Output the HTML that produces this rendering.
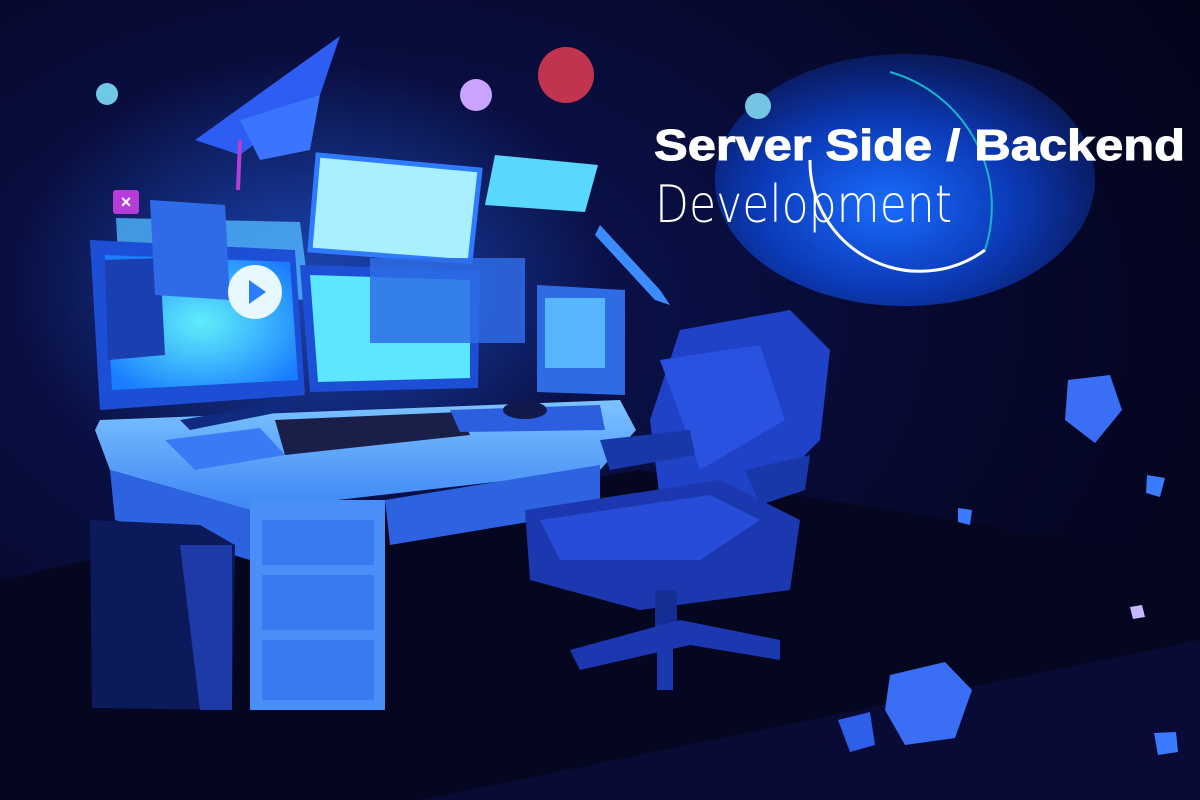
<!DOCTYPE html>
<html><head><meta charset="utf-8"><style>html,body{margin:0;padding:0;background:#07082a;}svg{display:block}</style></head>
<body>
<svg width="1200" height="800" viewBox="0 0 1200 800" xmlns="http://www.w3.org/2000/svg">
<defs>
<radialGradient id="bg" cx="0.3" cy="0.4" r="0.8"><stop offset="0" stop-color="#0c175a"/><stop offset="0.6" stop-color="#070930"/><stop offset="1" stop-color="#03041a"/></radialGradient>
<radialGradient id="glow" cx="0.45" cy="0.6" r="0.6"><stop offset="0" stop-color="#1a6cff"/><stop offset="0.55" stop-color="#0b3bb8"/><stop offset="0.9" stop-color="#0a1f6e"/><stop offset="1" stop-color="#0a1a5a"/></radialGradient>
<radialGradient id="scr" cx="0.5" cy="0.5" r="0.6"><stop offset="0" stop-color="#6ff" stop-opacity="0.9"/><stop offset="1" stop-color="#1a7dff"/></radialGradient>
<radialGradient id="halo" cx="0.5" cy="0.5" r="0.5"><stop offset="0" stop-color="#2a6dff" stop-opacity="0.55"/><stop offset="1" stop-color="#2a6dff" stop-opacity="0"/></radialGradient>
<linearGradient id="desk" x1="0" y1="0" x2="0" y2="1"><stop offset="0" stop-color="#7cc4ff"/><stop offset="1" stop-color="#3f86f5"/></linearGradient>
</defs>
<rect width="1200" height="800" fill="url(#bg)"/>
<polygon points="0,580 90,560 640,470 1200,560 1200,800 0,800" fill="#05061f"/>
<polygon points="420,800 1200,640 1200,800" fill="#090b36"/>
<ellipse cx="310" cy="280" rx="300" ry="220" fill="url(#halo)"/>
<ellipse cx="905" cy="180" rx="190" ry="126" fill="url(#glow)"/>
<path d="M810 160 A110 110 0 0 0 985 250" stroke="#ffffff" stroke-width="3" fill="none"/>
<path d="M890 72 A140 140 0 0 1 985 250" stroke="#19b5c8" stroke-width="2" fill="none"/>
<circle cx="107" cy="94" r="11" fill="#6fc8e8"/>
<circle cx="476" cy="95" r="16" fill="#c9a3ff"/>
<circle cx="566" cy="75" r="28" fill="#c0344f"/>
<circle cx="758" cy="106" r="13" fill="#74c4e4"/>
<polygon points="195,140 340,36 320,95 240,155" fill="#2d5df2"/>
<polygon points="240,120 320,95 310,150 260,160" fill="#3b74ff"/>
<line x1="240" y1="140" x2="238" y2="190" stroke="#b23fd8" stroke-width="4"/>
<polygon points="318,155 480,170 470,262 310,250" fill="#a8f0ff" stroke="#2f7bff" stroke-width="5"/>
<polygon points="495,155 598,165 585,212 485,205" fill="#5ad7ff"/>
<polygon points="116,218 300,222 310,300 120,295" fill="#4fb6ff" opacity="0.8"/>
<rect x="113" y="190" width="26" height="24" rx="3" fill="#b63cd8"/>
<text x="126" y="208" font-family="Liberation Sans,sans-serif" font-size="18" font-weight="bold" fill="#fff" text-anchor="middle">×</text>
<polygon points="600,225 660,290 670,305 655,300 595,235" fill="#3d8cff"/>
<polygon points="90,240 295,250 305,395 100,410" fill="#1d4fd6"/>
<polygon points="105,255 290,262 298,380 112,390" fill="url(#scr)"/>
<polygon points="105,260 160,258 165,355 108,360" fill="#1a3fb0"/>
<polygon points="150,200 225,205 230,300 155,295" fill="#2e6be8"/>
<circle cx="255" cy="292" r="27" fill="#e8f8ff"/>
<polygon points="249,280 249,304 266,292" fill="#2a7bff"/>
<polygon points="300,265 480,270 478,388 310,392" fill="#1d4fd6"/>
<polygon points="310,275 470,280 470,378 318,382" fill="#5de6ff"/>
<rect x="370" y="258" width="155" height="85" fill="#2e6ce6" opacity="0.85"/>
<polygon points="537,285 625,290 625,395 537,392" fill="#2e6ce6"/>
<rect x="545" y="298" width="60" height="70" fill="#58b5ff"/>
<polygon points="100,420 620,400 636,430 600,470 250,510 110,470 95,430" fill="url(#desk)"/>
<polygon points="110,470 250,510 250,560 115,520" fill="#2d63e0"/>
<polygon points="385,500 600,465 600,510 390,545" fill="#2d63e0"/>
<rect x="250" y="500" width="135" height="210" fill="#4a8ef8"/>
<rect x="262" y="520" width="112" height="45" fill="#3a7af0"/>
<rect x="262" y="575" width="112" height="55" fill="#3a7af0"/>
<rect x="262" y="640" width="112" height="60" fill="#3a7af0"/>
<polygon points="90,520 200,525 235,545 232,710 92,708" fill="#0c1a5c"/>
<polygon points="180,545 232,545 232,710 200,710" fill="#1e3aa6"/>
<polygon points="275,420 460,412 470,435 285,455" fill="#1a1f4a"/>
<polygon points="450,410 600,405 605,430 460,432" fill="#2c5ee0"/>
<ellipse cx="525" cy="410" rx="22" ry="9" fill="#0f1a4a"/>
<polygon points="165,440 260,428 285,455 195,470" fill="#3b7af5"/>
<polygon points="180,420 300,400 290,410 190,430" fill="#0f2a80"/>
<polygon points="680,330 790,310 830,350 820,440 740,520 660,500 650,420" fill="#1f42c8"/>
<polygon points="660,360 760,345 785,420 700,470" fill="#2a52e0"/>
<polygon points="525,510 720,480 800,520 790,590 640,610 530,580" fill="#1b38b0"/>
<polygon points="540,520 710,495 760,520 700,560 560,560" fill="#274cd8"/>
<polygon points="600,440 690,430 695,455 610,470" fill="#1837a8"/>
<polygon points="745,470 810,455 805,490 760,505" fill="#1837a8"/>
<rect x="655" y="590" width="22" height="40" fill="#142e96"/>
<polygon points="570,650 680,620 780,640 780,660 690,645 580,670" fill="#1b38b0"/>
<line x1="665" y1="625" x2="665" y2="690" stroke="#1b38b0" stroke-width="16"/>
<polygon points="1068,380 1110,375 1122,410 1095,443 1065,420" fill="#3a6ff5"/>
<polygon points="890,675 945,662 972,690 955,738 905,745 885,710" fill="#3a6ff5"/>
<polygon points="838,720 870,712 875,745 850,752" fill="#2d5fe8"/>
<polygon points="1147,475 1165,478 1160,497 1146,493" fill="#3a7aff"/>
<polygon points="958,508 972,510 970,525 958,522" fill="#3a7aff"/>
<polygon points="1154,733 1176,732 1178,752 1158,755" fill="#3a7aff"/>
<polygon points="1130,607 1142,605 1145,617 1133,619" fill="#c9b8ff"/>
<text x="654" y="160" font-family="Liberation Sans,sans-serif" font-weight="bold" font-size="44" fill="#fff" stroke="#fff" stroke-width="1" textLength="531" lengthAdjust="spacingAndGlyphs">Server Side / Backend</text>
<text x="655" y="222" font-family="DejaVu Sans,Liberation Sans,sans-serif" font-weight="200" font-size="52" fill="#fff" textLength="297" lengthAdjust="spacingAndGlyphs">Development</text>
</svg>
</body></html>
